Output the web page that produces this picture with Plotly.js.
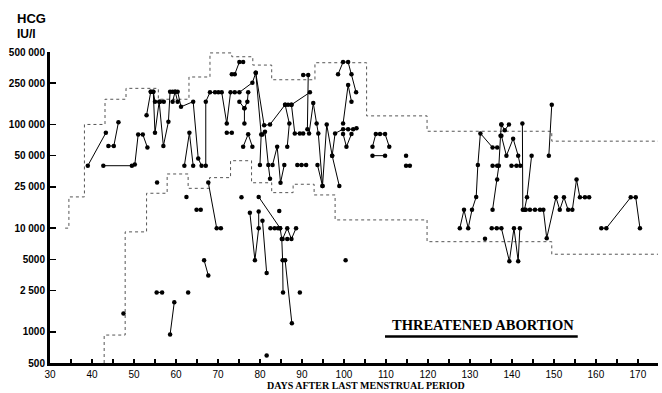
<!DOCTYPE html>
<html>
<head>
<meta charset="utf-8">
<script src="https://cdn.plot.ly/plotly-3.0.1.min.js"></script>
<style>html,body{margin:0;padding:0;background:#fff;}#chart{width:662px;height:393px;}</style>
</head>
<body>
<div id="chart"></div>
<script>
// Reference envelope (dotted step lines)
const upperDays = [33.6, 34.5, 38.2, 43.1, 48.1, 55.8, 63.1, 68.1, 73.3, 78.3, 82.8, 93.1, 105.4, 119.8, 149.5, 174.8];
const upperHCG  = [10000, 20000, 100000, 175000, 223000, 175000, 287000, 490000, 450000, 374000, 270000, 394000, 121000, 86000, 69000, 69000];
const lowerDays = [42.9, 42.9, 47.9, 53.0, 57.9, 62.9, 68.0, 73.0, 78.0, 82.8, 87.9, 92.9, 97.9, 119.8, 149.5, 174.8];
const lowerHCG  = [500, 930, 9200, 21700, 33300, 24200, 30700, 44700, 27400, 22000, 26500, 20900, 12000, 7400, 5600, 5600];

// Patient series (null separates patients)
const earlyDays = [39.0, 43.3, null, 43.9, 45.2, 46.3, null, 42.7, 49.5, 50.2, 51.0, 52.1, 53.2, null,
  53.0, 54.0, null, 54.0, 54.6, 55.0, 56.2, 57.1, null,
  54.6, 55.0, 56.0, 57.0, 58.2, 58.6, 59.2, 59.8, 60.4, null,
  59.2, 59.8, 60.4, 61.2, 64.1, 65.3, 66.1, null, 62.0, 63.2, 64.1, null,
  66.7, 67.7, null, 67.7, 69.7, 70.7, null, 59.6, 58.6, null, 64.9, 65.9, null, 55.4, 56.7];
const earlyHCG = [40000, 83000, null, 62000, 62000, 105000, null, 40000, 40000, 41000, 80000, 80000, 60000, null,
  123000, 207000, null, 207000, 207000, 166000, 166000, 166000, null,
  207000, 83000, 166000, 62000, 106000, 207000, 207000, 207000, 166000, null,
  166000, 207000, 207000, 148000, 166000, 47000, 40000, null, 40000, 83000, 40000, null,
  4900, 3500, null, 27500, 10000, 10000, null, 1930, 940, null, 15000, 15000, null, 2400, 2400];

const midDays = [67.1, 67.1, 68.1, 69.3, 70.1, 70.9, 72.1, 73.0, 74.0, 75.1, 78.2, 79.0, 81.0, 82.4, 86.0, 86.7, 87.5, 91.9, null,
  73.3, 74.0, 75.1, 76.0, null, 75.1, 76.3, 77.0, 77.2, null, 76.3, 76.3, null, 72.1, 73.3, null,
  76.0, 77.2, 78.2, null, 79.0, 80.3, 80.0, null, 80.6, 81.2, 82.0, 82.4, null, 83.0, 84.1, 84.9, 85.8, null,
  86.0, 87.0, 86.5, null, 87.5, 88.3, 89.5, 90.3, null, 88.9, 89.9, 91.0, null, 90.3, 91.5, 91.3, null,
  91.7, 92.7, 93.5, 93.9, 94.9, null, 93.7, 94.9, 95.9, 97.2, 98.9];
const midHCG = [40000, 166000, 204000, 204000, 204000, 204000, 102000, 204000, 204000, 204000, 253000, 315000, 98000, 100000, 155000, 155000, 155000, 204000, null,
  305000, 305000, 400000, 400000, null, 166000, 143000, 166000, 204000, null, 143000, 102000, null, 83000, 83000, null,
  61000, 80600, 61000, null, 315000, 80000, 40700, null, 80000, 85000, 40700, 30000, null, 40700, 61000, 27400, 40700, null,
  155000, 102000, 61000, null, 155000, 82000, 82000, 82000, null, 40700, 40700, 40700, null, 300000, 300000, 90000, null,
  82000, 161000, 102000, 82000, 25500, null, 40700, 25500, 100000, 50000, 25500];

const lowDays = [77.6, 78.8, 79.7, 79.7, null, 79.7, 84.8, null, 80.6, 81.6, null, 82.5, 83.5, 84.3, null,
  84.8, 85.2, 85.4, 85.5, null, 85.4, 86.5, 87.5, 88.6, null, 86.0, 87.6];
const lowHCG = [14100, 4900, 10000, 14500, null, 20000, 10000, null, 11800, 3700, null, 10000, 10000, 10000, null,
  10000, 7850, 4900, 2400, null, 7850, 10000, 7850, 10000, null, 4900, 1210];

const lateDays = [97.2, 97.9, 99.8, 101.0, 102.2, 103.0, null, 99.8, 100.6, 101.8, null, 99.8, 101.0, 101.8, null,
  98.6, 99.8, 101.0, 101.8, 102.9, null, 106.8, 107.6, 108.6, 109.8, 110.8, null, 106.8, 109.8, null, 114.8, 115.7];
const lateHCG = [50000, 82000, 90000, 90000, 90000, 92000, null, 81000, 61000, 81000, null, 102000, 240000, 166000, null,
  305000, 400000, 400000, 305000, 204000, null, 61000, 81000, 81000, 81000, 61000, null, 50000, 50000, null, 40000, 40000];

const rightDays = [127.6, 128.6, 129.6, 130.5, 131.5, 131.9, 132.5, 135.4, 136.5, null,
  135.4, 136.5, 136.9, 137.3, 137.5, null, 135.4, 136.5, null, 137.5, 138.7, 140.3, 141.5, 142.0, null,
  139.9, 141.1, null, 137.5, 138.3, 139.3, null,
  142.5, 142.6, 143.3, 144.3, 145.5, 146.7, 147.5, 148.3, 150.5, 151.4, 152.4, 153.4, 154.4, 155.4, 156.2, 157.4, 158.4, null,
  143.0, 143.6, 144.7, null, 148.8, 149.5, null, 135.2, 136.4, 137.5, 139.4, 140.5, 141.5, 141.9, null,
  161.3, 162.5, 168.3, 169.5, 170.5];
const rightHCG = [10000, 15000, 10000, 15000, 20000, 40700, 82000, 60000, 60000, null,
  15000, 29500, 40000, 78000, 100000, null, 40000, 40000, null, 78000, 50000, 73000, 50000, 40000, null,
  40000, 40000, null, 100000, 88000, 100000, null,
  102000, 15000, 15000, 15000, 15000, 15000, 15000, 8000, 19800, 15000, 19800, 15000, 15000, 29500, 19800, 19800, 19800, null,
  15000, 19800, 50000, null, 50000, 155000, null, 10000, 10000, 10000, 4800, 10000, 4800, 10000, null,
  10000, 10000, 19800, 19800, 10000];

const singleDays = [55.5, 62.5, 62.9, 47.5, 75.6, 84.6, 89.5, 81.6, 100.4, 114.8, 133.6, 86.5];
const singleHCG  = [27500, 20000, 2400, 1500, 19800, 14600, 2400, 590, 4900, 50000, 7900, 7850];

const yTickVals = [500, 1000, 2500, 5000, 10000, 25000, 50000, 100000, 250000, 500000];
const yTickText = ['500', '1000', '2 500', '5000', '10 000', '25 000', '50 000', '100 000', '250 000', '500 000'];

const envLine = {color: '#555', width: 1, dash: 'dot', shape: 'hv'};
const dataLine = {color: '#000', width: 1};
const dot = {color: '#000', size: 4.5};

const traces = [
  {x: upperDays, y: upperHCG, mode: 'lines', line: envLine, hoverinfo: 'skip'},
  {x: lowerDays, y: lowerHCG, mode: 'lines', line: envLine, hoverinfo: 'skip'}
];
[[earlyDays, earlyHCG], [midDays, midHCG], [lowDays, lowHCG], [lateDays, lateHCG], [rightDays, rightHCG]].forEach(function (p) {
  traces.push({x: p[0], y: p[1], mode: 'lines+markers', line: dataLine, marker: dot, connectgaps: false});
});
traces.push({x: singleDays, y: singleHCG, mode: 'markers', marker: dot});

const layout = {
  width: 662, height: 393,
  margin: {l: 50, r: 4, t: 52, b: 30},
  paper_bgcolor: '#fff', plot_bgcolor: '#fff',
  showlegend: false,
  font: {family: 'Liberation Sans, Arial, sans-serif', color: '#000'},
  xaxis: {
    range: [30, 174.8], tick0: 30, dtick: 10,
    ticks: 'inside', ticklen: 4, tickwidth: 1.5, tickcolor: '#000',
    showline: true, linewidth: 3, linecolor: '#000',
    showgrid: false, zeroline: false,
    tickfont: {family: 'Liberation Sans Narrow, Liberation Sans, Arial, sans-serif', size: 10},
    minor: {dtick: 5, ticks: 'inside', ticklen: 4, tickwidth: 1.5, tickcolor: '#000', showgrid: false}
  },
  yaxis: {
    type: 'log', range: [Math.log10(500), Math.log10(500000)],
    tickmode: 'array', tickvals: yTickVals, ticktext: yTickText,
    ticks: 'inside', ticklen: 6, tickwidth: 1.5, tickcolor: '#000',
    showline: true, linewidth: 3, linecolor: '#000',
    showgrid: false, zeroline: false,
    tickfont: {family: 'Liberation Sans Narrow, Liberation Sans, Arial, sans-serif', size: 10, weight: 'bold'}
  },
  annotations: [
    {xref: 'paper', yref: 'paper', x: -0.0576, y: 1.109, xanchor: 'left', yanchor: 'middle', showarrow: false,
     text: 'HCG', font: {family: 'Liberation Sans, Arial, sans-serif', size: 13, weight: 'bold'}},
    {xref: 'paper', yref: 'paper', x: -0.0576, y: 1.058, xanchor: 'left', yanchor: 'middle', showarrow: false,
     text: 'IU/l', font: {family: 'Liberation Sans, Arial, sans-serif', size: 12, weight: 'bold'}},
    {xref: 'paper', yref: 'paper', x: 0.52, y: -0.073, xanchor: 'center', yanchor: 'middle', showarrow: false,
     text: 'DAYS AFTER LAST MENSTRUAL PERIOD', font: {family: 'Liberation Serif, Times New Roman, serif', size: 10, weight: 'bold'}},
    {xref: 'paper', yref: 'paper', x: 0.712, y: 0.122, xanchor: 'center', yanchor: 'middle', showarrow: false,
     text: 'THREATENED ABORTION', font: {family: 'Liberation Serif, Times New Roman, serif', size: 14.5, weight: 'bold'}}
  ],
  shapes: [
    {type: 'line', xref: 'paper', yref: 'paper', x0: 0.551, x1: 0.868, y0: 0.085, y1: 0.085,
     line: {color: '#000', width: 2.5}}
  ]
};

Plotly.newPlot('chart', traces, layout, {staticPlot: true, displayModeBar: false});
</script>
</body>
</html>
